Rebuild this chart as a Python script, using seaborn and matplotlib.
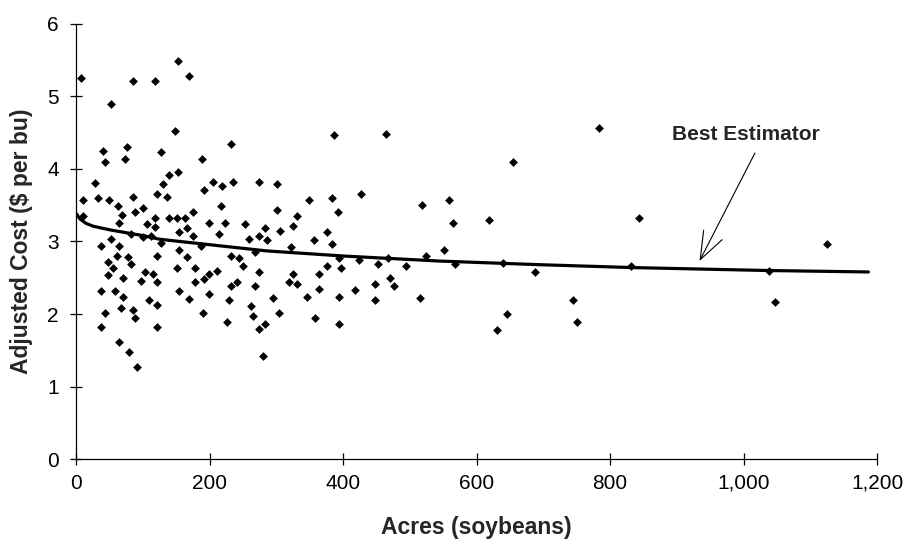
import numpy as np
import pandas as pd
import matplotlib
matplotlib.use('Agg')
import matplotlib.pyplot as plt
from matplotlib.ticker import FuncFormatter, MultipleLocator
import seaborn as sns

# ===== dados =====
acres = [7, 85, 118, 153, 169, 52, 148, 40, 76, 43, 73, 127, 189, 28, 139, 153, 130, 192,
         10, 33, 49, 85, 122, 136, 63, 100, 88, 69, 175, 10, 65, 118, 139, 151, 163, 106,
         118, 166, 199, 82, 154, 175, 52, 101, 112, 127, 37, 64, 187, 61, 121, 154, 166, 78,
         48, 82, 55, 48, 70, 103, 115, 97, 121, 151, 178, 199, 192, 178, 37, 58, 70, 154,
         169, 199, 109, 121, 43, 67, 85, 88, 190, 37, 121, 64, 79, 91,
         387, 232, 205, 219, 235, 274, 301, 217, 349, 384, 301, 393, 331, 223, 253, 283,
         325, 306, 214, 259, 274, 286, 376, 357, 322, 384, 232, 244, 268, 394,
         250, 274, 211, 241, 232, 268, 325, 319, 331, 364, 376, 397, 364, 346, 394, 229,
         295, 262, 265, 304, 226, 283, 274, 358, 394, 280,
         465, 654, 427, 519, 558, 564, 618, 552, 525, 468, 424, 453, 495, 567, 639, 687,
         448, 471, 477, 418, 448, 516, 645, 630,
         783, 843, 1125, 831, 1038, 744, 750, 1047]
custo = [5.25, 5.22, 5.22, 5.49, 5.28, 4.89, 4.53, 4.25, 4.31, 4.09, 4.14, 4.23, 4.14, 3.81, 3.92, 3.96, 3.79, 3.71,
         3.57, 3.60, 3.57, 3.62, 3.65, 3.62, 3.49, 3.46, 3.40, 3.37, 3.40, 3.35, 3.26, 3.32, 3.32, 3.32, 3.32, 3.24,
         3.20, 3.18, 3.26, 3.10, 3.13, 3.08, 3.04, 3.06, 3.08, 2.98, 2.94, 2.94, 2.94, 2.80, 2.80, 2.88, 2.78, 2.78,
         2.72, 2.69, 2.63, 2.54, 2.49, 2.58, 2.55, 2.46, 2.44, 2.63, 2.63, 2.55, 2.48, 2.44, 2.32, 2.32, 2.24, 2.32,
         2.21, 2.27, 2.19, 2.13, 2.02, 2.08, 2.05, 1.94, 2.02, 1.82, 1.82, 1.61, 1.47, 1.27,
         4.47, 4.34, 3.82, 3.76, 3.82, 3.82, 3.79, 3.49, 3.57, 3.60, 3.43, 3.40, 3.35, 3.26, 3.24, 3.18,
         3.21, 3.15, 3.10, 3.04, 3.07, 3.02, 3.13, 3.02, 2.93, 2.96, 2.80, 2.77, 2.85, 2.77,
         2.66, 2.58, 2.60, 2.44, 2.38, 2.38, 2.55, 2.44, 2.41, 2.55, 2.66, 2.63, 2.35, 2.24, 2.24, 2.19,
         2.22, 2.11, 1.97, 2.02, 1.89, 1.86, 1.80, 1.94, 1.86, 1.42,
         4.48, 4.09, 3.65, 3.51, 3.57, 3.26, 3.29, 2.88, 2.80, 2.77, 2.74, 2.69, 2.66, 2.69, 2.71, 2.58,
         2.41, 2.49, 2.38, 2.33, 2.19, 2.22, 2.00, 1.78,
         4.56, 3.32, 2.96, 2.66, 2.60, 2.19, 1.89, 2.16]

# curva "Best Estimator" (pontos lidos ao longo da linha)
curva_x = [0, 6, 15, 26, 51, 76, 101, 126, 176, 216, 286, 400, 545, 695, 835, 1035, 1187]
curva_y = [3.39, 3.31, 3.25, 3.21, 3.16, 3.12, 3.08, 3.03, 2.98, 2.94, 2.87, 2.80, 2.73, 2.68, 2.64, 2.60, 2.58]

df = pd.DataFrame({'acres': acres, 'custo': custo})
curva = pd.DataFrame({'x': curva_x, 'y': curva_y})

sns.set_style('white')
plt.rcParams['font.family'] = ['Liberation Sans', 'DejaVu Sans']

fig = plt.figure(figsize=(9.07, 5.39), dpi=100)
ax = fig.add_axes([0.0838, 0.1484, 0.8832, 0.8071])

sns.scatterplot(data=df, x='acres', y='custo', marker='D', s=20, color='black',
                linewidth=0, ax=ax, zorder=3)
sns.lineplot(data=curva, x='x', y='y', color='black', linewidth=2.3, ax=ax, zorder=4)

ax.set_xlim(0, 1200)
ax.set_ylim(0, 6)
ax.xaxis.set_major_locator(MultipleLocator(200))
ax.yaxis.set_major_locator(MultipleLocator(1))
ax.xaxis.set_major_formatter(FuncFormatter(lambda v, p: f'{v:,.0f}'))

for lado in ['top', 'right']:
    ax.spines[lado].set_visible(False)
for lado in ['left', 'bottom']:
    ax.spines[lado].set_color('black')
    ax.spines[lado].set_linewidth(0.9)

ax.tick_params(axis='x', direction='inout', length=9, width=0.9, labelsize=15, pad=6, colors='black')
ax.tick_params(axis='y', direction='inout', length=9, width=0.9, labelsize=15, pad=8, colors='black')
ax.tick_params(left=True, bottom=True)

ax.set_xlabel('Acres (soybeans)', fontsize=16.5, fontweight='bold', labelpad=17)
ax.set_ylabel('Adjusted Cost ($ per bu)', fontsize=16.5, fontweight='bold', labelpad=10)

# anotação
ax.text(1004, 4.47, 'Best Estimator', fontsize=15, fontweight='bold', ha='center', va='center')
ax.annotate('', xy=(934, 2.73), xytext=(1017, 4.22),
            arrowprops=dict(arrowstyle='->,head_length=2.0,head_width=0.75', mutation_scale=10,
                            color='black', linewidth=0.8, shrinkA=0, shrinkB=0))

fig.savefig('out.png', dpi=100)
